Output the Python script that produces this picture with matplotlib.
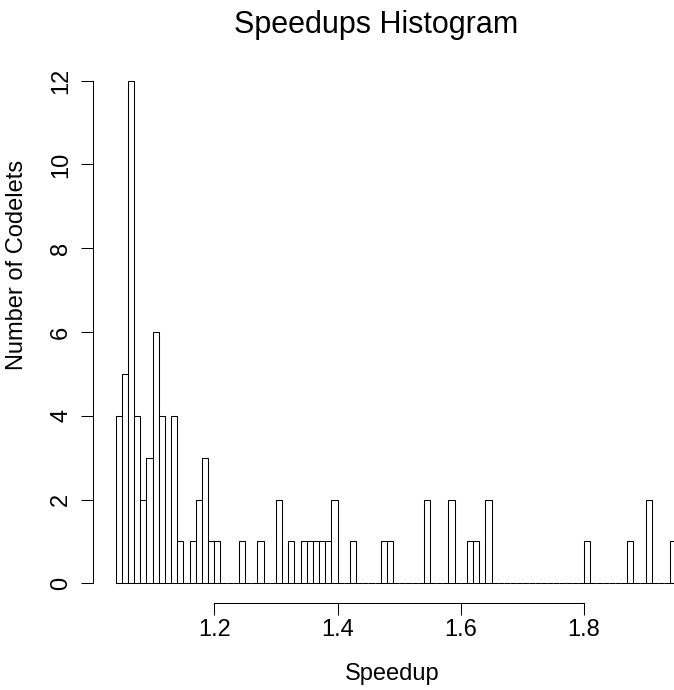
import numpy as np
import matplotlib
matplotlib.use("Agg")
import matplotlib.pyplot as plt

plt.rcParams["font.family"] = ["Liberation Sans", "DejaVu Sans"]

# histogram bins of width 0.01, non-empty bins only (left edge -> count)
bin_width = 0.01
first_break = 1.04
last_break = 1.95
nonzero_bins = [1.04, 1.05, 1.06, 1.07, 1.08, 1.09, 1.10, 1.11, 1.13, 1.14,
                1.16, 1.17, 1.18, 1.19, 1.20, 1.24, 1.27, 1.30, 1.32, 1.34,
                1.35, 1.36, 1.37, 1.38, 1.39, 1.42, 1.47, 1.48, 1.54, 1.58,
                1.61, 1.62, 1.64, 1.80, 1.87, 1.90, 1.94]
nonzero_counts = [4, 5, 12, 4, 2, 3, 6, 4, 4, 1,
                  1, 2, 3, 1, 1, 1, 1, 2, 1, 1,
                  1, 1, 1, 1, 2, 1, 1, 1, 2, 2,
                  1, 1, 2, 1, 1, 2, 1]
x_ticks = [1.2, 1.4, 1.6, 1.8]
y_ticks = [0, 2, 4, 6, 8, 10, 12]

n_bins = int(round((last_break - first_break) / bin_width))
lefts = first_break + bin_width * np.arange(n_bins)
counts = np.zeros(n_bins)
for b, c in zip(nonzero_bins, nonzero_counts):
    counts[int(round((b - first_break) / bin_width))] = c

W, H = 674, 690
fig = plt.figure(figsize=(W / 100, H / 100), dpi=100)
# plot region in pixels (R style, right side cropped by the figure)
left_px, right_px, top_px, bottom_px = 93.2, 699.0, 60.6, 603.4
ax_w = right_px - left_px
ax_h = bottom_px - top_px
ax = fig.add_axes([left_px / W, 1 - bottom_px / H, ax_w / W, ax_h / H])

ax.bar(lefts, counts, width=bin_width, align="edge", facecolor="white",
       edgecolor="black", linewidth=0.75)

ext = 0.04 * (last_break - first_break)
ax.set_xlim(first_break - ext, last_break + ext)
ax.set_ylim(-0.04 * 12, 12 * 1.04)

for s in ["top", "right"]:
    ax.spines[s].set_visible(False)
ax.spines["left"].set_bounds(0, 12)
ax.spines["bottom"].set_bounds(1.2, 1.8)
for s in ["left", "bottom"]:
    ax.spines[s].set_linewidth(0.75)

ax.set_xticks(x_ticks)
ax.set_xticklabels([f"{t:.1f}" for t in x_ticks])
ax.set_yticks(y_ticks)
ax.set_yticklabels([str(t) for t in y_ticks], rotation=90, va="center")
ax.tick_params(axis="both", direction="out", length=8.3, width=0.75,
               labelsize=17)
ax.tick_params(axis="y", pad=6.8)
ax.tick_params(axis="x", pad=2.6)

ax.set_xlabel("Speedup", fontsize=17, va="center")
ax.xaxis.set_label_coords((392 - left_px) / ax_w, -(674 - bottom_px) / ax_h)
ax.set_ylabel("Number of Codelets", fontsize=17, va="center", ha="center")
ax.yaxis.set_label_coords((17 - left_px) / ax_w, (bottom_px - 265) / ax_h)
ax.set_title("Speedups Histogram", fontsize=22, va="center", pad=0,
             x=(376 - left_px) / ax_w, y=(bottom_px - 25) / ax_h)

fig.savefig("out.png", dpi=100)
